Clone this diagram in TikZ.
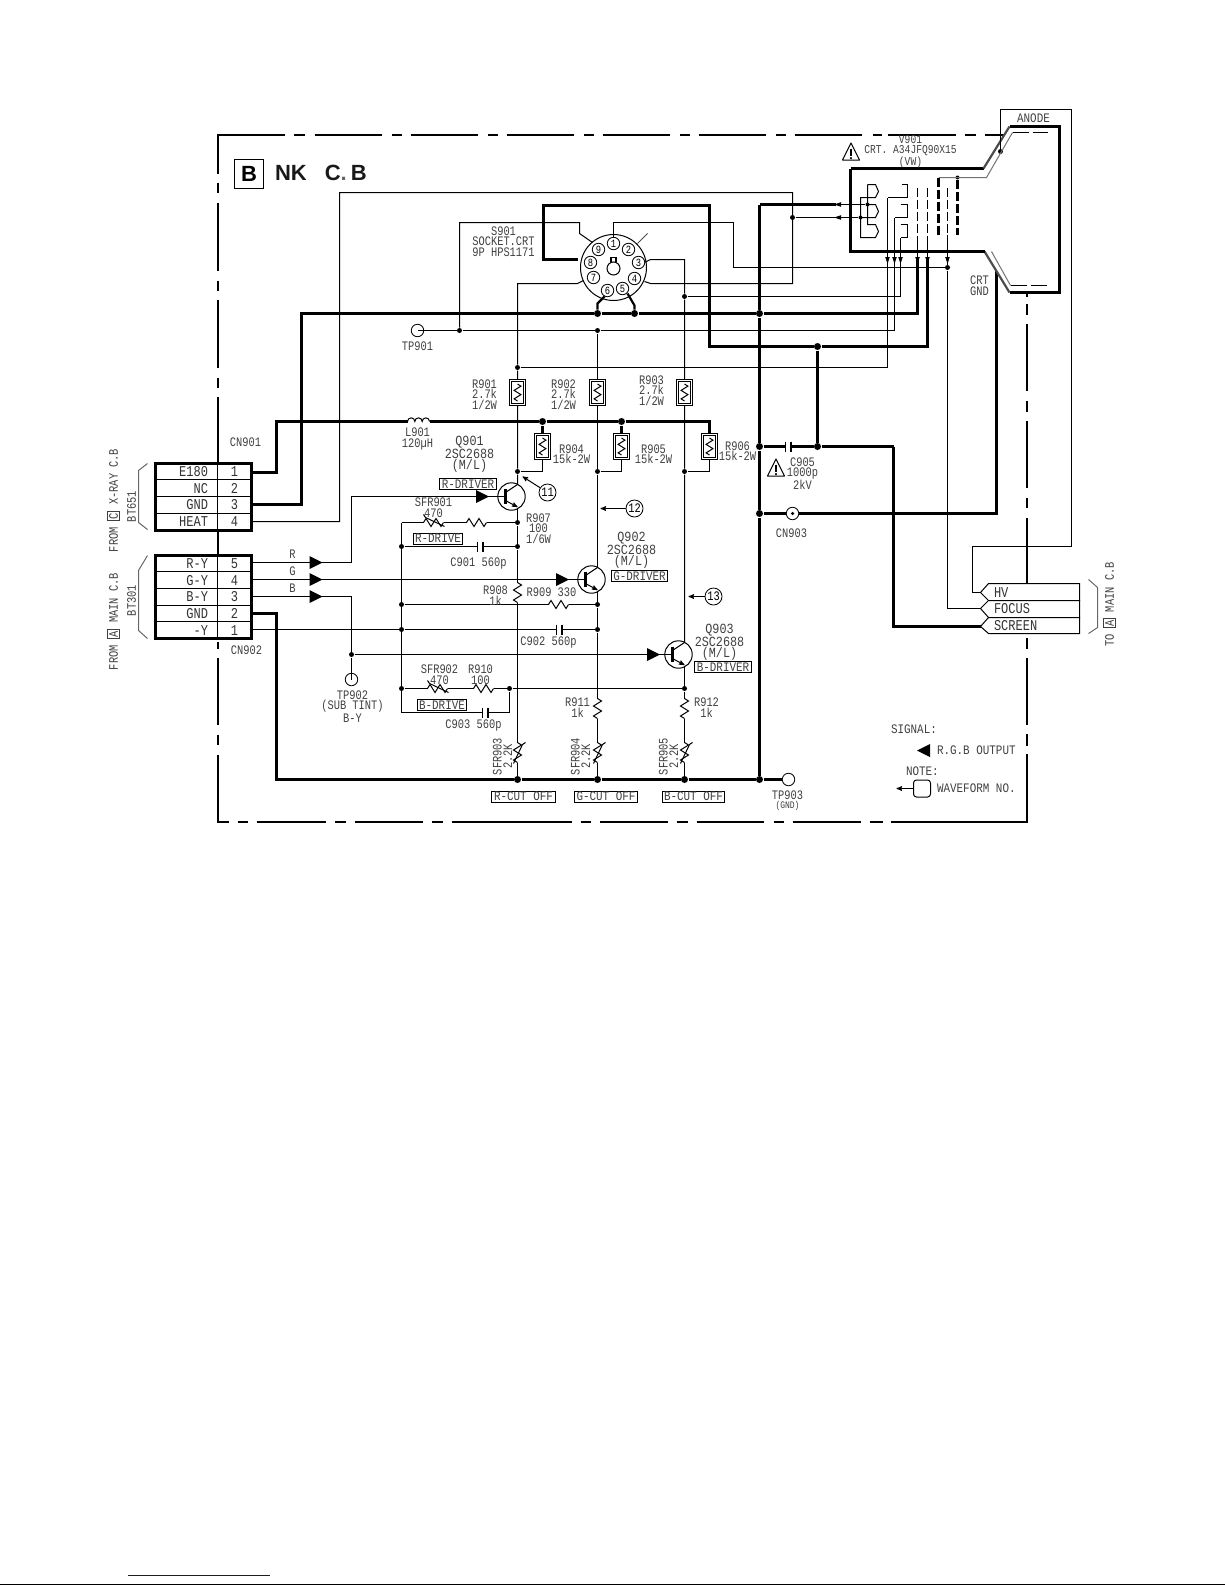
\documentclass[tikz,border=0pt]{standalone}
\usepackage{fontspec}
\usetikzlibrary{arrows,positioning}
\newfontfamily\cadfam[FakeStretch=.8]{Liberation Mono}
\newfontfamily\cadwidefam[FakeStretch=.84]{Liberation Mono}
\newfontfamily\titlefam{Liberation Sans}
\newcommand{\cadtxt}{\cadfam\fontsize{13}{10.5}\selectfont}
\newcommand{\cadsml}{\cadfam\fontsize{12}{10.5}\selectfont}
\newcommand{\cadwide}{\cadwidefam\fontsize{13}{10.5}\selectfont}
\newcommand{\cadbig}{\cadfam\fontsize{15}{11.5}\selectfont}
\newcommand{\cadq}{\cadwidefam\fontsize{14}{11.5}\selectfont}
\newcommand{\cadpin}{\cadfam\fontsize{11}{11}\selectfont}
\setlength{\fboxsep}{1pt}
\setlength{\fboxrule}{.8pt}

\tikzset{
  resz/.pic={\draw[wire] (-10,0) -- (-7.5,-4) -- (-2.5,4) -- (2.5,-4) -- (7.5,4) -- (10,0);
    \coordinate (-a) at (-10,0); \coordinate (-b) at (10,0);},
  sfrz/.pic={\draw[wire] (-10,0) -- (-7.5,-4) -- (-2.5,4) -- (2.5,-4) -- (7.5,4) -- (10,0);
    \draw[wire] (11,4) -- (-8,-5) -- (-10,-8);
    \coordinate (-a) at (-10,0); \coordinate (-b) at (10,0);},
  capc/.pic={\draw[wire] (-3,-5) -- (-3,5); \draw[line width=2.2] (2.5,-5) -- (2.5,5);
    \coordinate (-a) at (-3,0); \coordinate (-b) at (2.5,0);},
  npn/.pic={\node[circle,draw,line width=1,minimum size=27.4,inner sep=0] (-ring) at (0,0) {};
    \draw[line width=2.2] (-6,-8) -- (-6,7);
    \draw[wire] (-6,-4) -- (6,-12);
    \draw[wire,-stealth'] (-6,4) -- (6,10.5);
    \coordinate (-b) at (-6,0); \coordinate (-c) at (6,-12); \coordinate (-e) at (6,11);},
  sigtri/.pic={\fill (-6.5,-6.5) -- (6.5,0) -- (-6.5,6.5) -- cycle;},
  tiptri/.pic={\fill (-2.3,-3.5) -- (2.3,-3.5) -- (0,3.5) -- cycle;},
  coilz/.pic={\draw[wire] (-11,0) arc (180:360:3.67) arc (180:360:3.67) arc (180:360:3.67);
    \coordinate (-a) at (-11,0); \coordinate (-b) at (11,0);},
  warnz/.pic={\draw[wire,line join=round] (-8.5,8.5) -- (8.5,8.5) -- (0,-8.5) -- cycle;
    \draw[line width=1.4] (0,-3) -- (0,4); \fill (0,6.6) circle (1.2);},
}

\begin{document}
\begin{tikzpicture}[x=1pt,y=-1pt,line width=1pt,shift={(.5,.5)}]
  \tikzstyle{wire}=[line width=1pt,black]
  \tikzstyle{hvwire}=[line width=2.6pt,black]
  \tikzstyle{midwire}=[line width=2.2pt,black]
  \tikzstyle{greywire}=[line width=1pt,black!55]
  \tikzstyle{framelin}=[line width=2pt,black]
  \tikzstyle{dot}=[circle,fill=black,inner sep=0,minimum size=5pt]
  \tikzstyle{bigdot}=[circle,fill=black,inner sep=0,minimum size=7pt]
  \tikzstyle{resbox}=[draw,line width=1pt,fill=white,minimum width=16pt,inner sep=0]
  \tikzstyle{resin}=[draw,line width=1pt,minimum width=12pt,inner sep=0]
  \tikzstyle{tpoint}=[circle,draw,line width=.8pt,inner sep=0,minimum size=12.5pt]
  \tikzstyle{pinc}=[circle,draw,line width=.8pt,fill=white,inner sep=0,minimum size=12.5pt,font=\cadpin]
  \tikzstyle{wavec}=[circle,draw,line width=.8pt,fill=white,inner sep=0,minimum size=17pt,font=\cadtxt]
  \tikzstyle{lbl}=[inner sep=0,align=center,font=\cadtxt,text=black!75]
  \tikzstyle{wlbl}=[inner sep=0,align=center,font=\cadwide,text=black!75]
  \tikzstyle{qlbl}=[inner sep=0,align=center,font=\cadq,text=black!75]
  \tikzstyle{cell}=[inner sep=0,font=\cadbig,text=black!80]
  \tikzstyle{tagbox}=[draw,line width=1pt,inner sep=0,font=\cadwide,text=black!75,minimum height=11pt]
  \tikzstyle{cnbox}=[draw,line width=2.2pt,fill=white,inner sep=0]

  \useasboundingbox (-.5,-.5) rectangle (1224.5,1584.5);

  % frame
  \draw[framelin] (284,134) -- (217,134) -- (217,173) (293,134) -- (304,134) (314,134) -- (381,134)
    (391,134) -- (401,134) (410,134) -- (477,134) (487,134) -- (497,134) (506,134) -- (573,134)
    (583,134) -- (593,134) (602,134) -- (669,134) (679,134) -- (689,134) (698,134) -- (765,134)
    (775,134) -- (785,134) (794,134) -- (861,134) (872,134) -- (881,134) (887,134) -- (955,134)
    (964,134) -- (975,134) (984,134) -- (1003,134);
  \draw[framelin] (217,182) -- (217,192) (217,202) -- (217,270) (217,280) -- (217,290) (217,299) -- (217,367)
    (217,377) -- (217,387) (217,396) -- (217,463) (217,530) -- (217,555) (217,641) -- (217,648)
    (217,657) -- (217,724) (217,734) -- (217,744) (217,754) -- (217,821) -- (228,821);
  \draw[framelin] (237,821) -- (247,821) (256,821) -- (325,821) (334,821) -- (345,821) (354,821) -- (422,821)
    (431,821) -- (442,821) (451,821) -- (571,821) (580,821) -- (590,821) (599,821) -- (667,821)
    (676,821) -- (687,821) (696,821) -- (763,821) (773,821) -- (783,821) (792,821) -- (860,821)
    (869,821) -- (882,821) (890,821) -- (1026,821) -- (1026,753);
  \draw[framelin] (1026,745) -- (1026,733) (1026,724) -- (1026,657) (1026,648) -- (1026,637)
    (1026,583) -- (1026,517) (1026,507) -- (1026,497) (1026,487) -- (1026,420) (1026,411) -- (1026,400)
    (1026,390) -- (1026,323) (1026,314) -- (1026,303) (1026,296) -- (1026,292);

  % junctions
  \node[dot] (jTPa) at (459,330) {};
  \node[dot] (jG) at (597,330) {};
  \node[dot] (jR) at (517,367) {};
  \node[dot] (jB) at (684,296) {};
  \node[dot] (jHeat) at (792,217) {};
  \node[bigdot] (jPsix) at (597,313) {};
  \node[bigdot] (jPfive) at (634,313) {};
  \node[bigdot] (jGndtop) at (759,313) {};
  \node[bigdot] (jScr) at (817,346) {};
  \node[bigdot] (jCap) at (817,446) {};
  \node[bigdot] (jCapl) at (759,446) {};
  \node[bigdot] (jCrt) at (759,513) {};
  \node[bigdot] (jLa) at (542,421) {};
  \node[bigdot] (jLb) at (621,421) {};
  \node[dot] (jRa) at (517,471) {};
  \node[dot] (jGa) at (597,471) {};
  \node[dot] (jBa) at (684,471) {};
  \node[dot] (jRb) at (517,522) {};
  \node[dot] (jRc) at (517,546) {};
  \node[dot] (jBusa) at (401,546) {};
  \node[dot] (jBusb) at (401,604) {};
  \node[dot] (jBusc) at (401,629) {};
  \node[dot] (jBusd) at (401,688) {};
  \node[dot] (jGb) at (597,604) {};
  \node[dot] (jGc) at (597,629) {};
  \node[dot] (jBb) at (684,688) {};
  \node[dot] (jBc) at (509,688) {};
  \node[dot] (jBin) at (351,654) {};
  \node[bigdot] (jGndr) at (517,779) {};
  \node[bigdot] (jGndg) at (597,779) {};
  \node[bigdot] (jGndb) at (684,779) {};
  \node[bigdot] (jGndv) at (759,779) {};
  \node[dot] (jFocus) at (947,267) {};
  \node[dot] (jAnode) at (1000,151) {};
  \node[dot,minimum size=4pt] (jGrid) at (957,177) {};
  \node[dot,minimum size=4pt] (jHa) at (867,204) {};
  \node[dot,minimum size=4pt] (jHb) at (860,217) {};

  % parts that sit on the wires
  \node[tpoint] (TP901) at (417,330) {};
  \node[tpoint] (TP902) at (351,679) {};
  \node[tpoint] (TP903) at (788,779) {};
  \pic (Qa) at (511,496) {npn};
  \pic (Qb) at (591,579) {npn};
  \pic (Qc) at (678,654) {npn};
  \pic[rotate=-90] (Reight) at (517,592) {resz};
  \pic[rotate=-90] (Releven) at (597,708) {resz};
  \pic[rotate=-90] (Rtwelve) at (684,708) {resz};
  \pic (Rseven) at (476,522) {resz};
  \pic (Rnine) at (558,604) {resz};
  \pic (Rten) at (483,688) {resz};
  \pic (Sone) at (433,522) {sfrz};
  \pic (Stwo) at (437,688) {sfrz};
  \pic[rotate=-90] (Sthree) at (517,752) {sfrz};
  \pic[rotate=-90] (Sfour) at (597,752) {sfrz};
  \pic[rotate=-90] (Sfive) at (684,752) {sfrz};
  \pic (Ca) at (480,546) {capc};
  \pic (Cb) at (559,629) {capc};
  \pic (Cc) at (485,712) {capc};
  \pic (Ce) at (788,446) {capc};
  \pic (Lone) at (418,421) {coilz};

  % connector blocks
  \coordinate (cnAa) at (251,472);
  \coordinate (cnAc) at (251,504);
  \coordinate (cnAd) at (251,521);
  \coordinate (cnBe) at (251,562);
  \coordinate (cnBd) at (251,579);
  \coordinate (cnBc) at (251,596);
  \coordinate (cnBb) at (251,613);
  \coordinate (cnBa) at (251,629);

  % red, green, blue inputs
  \coordinate (bendR) at (351,562);
  \coordinate (topR) at (351,496);
  \coordinate (bendB) at (351,596);
  \draw[wire] (cnBe) -- (bendR) -- (topR) -- (Qa-b);
  \draw[wire] (cnBd) -- (Qb-b);
  \draw[wire] (cnBc) -- (bendB) -- (jBin) -- (TP902.center);
  \draw[wire] (jBin) -- (Qc-b);
  \draw[wire] (cnBa) -- (jBusc) -- (Cb-a);
  \draw[wire] (Cb-b) -- (jGc);
  \pic (triRa) at (315.5,562) {sigtri};
  \pic (triGa) at (315.5,579) {sigtri};
  \pic (triBa) at (315.5,596) {sigtri};
  \pic (triRb) at (482,496) {sigtri};
  \pic (triGb) at (562,579) {sigtri};
  \pic (triBb) at (653,654) {sigtri};

  % drive bus
  \coordinate (busTop) at (401,522);
  \coordinate (busEnd) at (401,712);
  \coordinate (capEnd) at (509,712);
  \draw[wire] (busTop) -- (busEnd) -- (Cc-a);
  \draw[wire] (Cc-b) -- (capEnd) -- (jBc);
  \draw[wire] (busTop) -- (Sone-a);
  \draw[wire] (Sone-b) -- (Rseven-a);
  \draw[wire] (Rseven-b) -- (jRb);
  \draw[wire] (jBusa) -- (Ca-a);
  \draw[wire] (Ca-b) -- (jRc);
  \draw[wire] (jBusb) -- (Rnine-a);
  \draw[wire] (Rnine-b) -- (jGb);
  \draw[wire] (jBusd) -- (Stwo-a);
  \draw[wire] (Stwo-b) -- (Rten-a);
  \draw[wire] (Rten-b) -- (jBc) -- (jBb);

  % columns
  \coordinate (pinSeven) at (583,280);
  \coordinate (stubSeven) at (577,283);
  \coordinate (topCr) at (517,283);
  \coordinate (pinThree) at (644,262);
  \coordinate (stubThree) at (650,259);
  \coordinate (topCb) at (684,259);
  \draw[wire] (pinSeven) -- (stubSeven) -- (topCr) -- (jR) -- (jRa) -- (Qa-c);
  \draw[wire] (Qa-e) -- (jRb) -- (jRc) -- (Reight-a);
  \draw[wire] (Reight-b) -- (Sthree-a);
  \draw[wire] (Sthree-b) -- (jGndr);
  \draw[wire] (jG) -- (jGa) -- (Qb-c);
  \draw[wire] (Qb-e) -- (jGb) -- (jGc) -- (Releven-a);
  \draw[wire] (Releven-b) -- (Sfour-a);
  \draw[wire] (Sfour-b) -- (jGndg);
  \draw[wire] (pinThree) -- (stubThree) -- (topCb) -- (jB) -- (jBa) -- (Qc-c);
  \draw[wire] (Qc-e) -- (jBb) -- (Rtwelve-a);
  \draw[wire] (Rtwelve-b) -- (Sfive-a);
  \draw[wire] (Sfive-b) -- (jGndb);

  % 180 V rail and its resistors
  \coordinate (railUp) at (276,421);
  \coordinate (railEnd) at (709,421);
  \node[resbox,minimum height=26pt] (Rfour) at (542,446) {};
  \node[resbox,minimum height=26pt] (Rfive) at (621,446) {};
  \node[resbox,minimum height=26pt] (Rsix) at (709,446) {};
  \node[resbox,minimum height=26pt] (Rone) at (517,392) {};
  \node[resbox,minimum height=26pt] (Rtwo) at (597,392) {};
  \node[resbox,minimum height=26pt] (Rthree) at (684,392) {};
  \node[resin,minimum height=22pt] (iRone) at (Rone) {};
  \node[resin,minimum height=22pt] (iRtwo) at (Rtwo) {};
  \node[resin,minimum height=22pt] (iRthree) at (Rthree) {};
  \node[resin,minimum height=22pt] (iRfour) at (Rfour) {};
  \node[resin,minimum height=22pt] (iRfive) at (Rfive) {};
  \node[resin,minimum height=22pt] (iRsix) at (Rsix) {};
  \pic[rotate=-90,scale=.85] (zRone) at (Rone) {resz};
  \pic[rotate=-90,scale=.85] (zRtwo) at (Rtwo) {resz};
  \pic[rotate=-90,scale=.85] (zRthree) at (Rthree) {resz};
  \pic[rotate=-90,scale=.85] (zRfour) at (Rfour) {resz};
  \pic[rotate=-90,scale=.85] (zRfive) at (Rfive) {resz};
  \pic[rotate=-90,scale=.85] (zRsix) at (Rsix) {resz};
  \draw[hvwire] (cnAa) -| (railUp) -- (Lone-a);
  \draw[hvwire] (Lone-b) -- (jLa) -- (jLb) -- (railEnd) -- (Rsix.north);
  \draw[hvwire] (jLa) -- (Rfour.north);
  \draw[hvwire] (jLb) -- (Rfive.north);
  \draw[wire] (Rfour.south) |- (jRa);
  \draw[wire] (Rfive.south) |- (jGa);
  \draw[wire] (Rsix.south) |- (jBa);

  % socket
  \node[circle,draw,line width=1pt,inner sep=0,minimum size=66pt] (sock) at (613,267) {};
  \node[circle,draw,line width=1pt,inner sep=0,minimum size=13pt] (sockKey) at (613,268) {};
  \draw[line width=1.1pt] ([xshift=-2.5pt]sockKey.north) -- ++(0,-4) -- ++(5,0) -- ++(0,4);
  \node[pinc] (pa) at (613,243) {1};
  \node[pinc] (pb) at (628,249) {2};
  \node[pinc] (pc) at (638,262) {3};
  \node[pinc] (pd) at (634,278) {4};
  \node[pinc] (pe) at (622,288) {5};
  \node[pinc] (pf) at (607,290) {6};
  \node[pinc] (pg) at (593,277) {7};
  \node[pinc] (ph) at (590,262) {8};
  \node[pinc] (pi) at (598,249) {9};
  \coordinate (stubTwoa) at (637,243);
  \coordinate (stubTwob) at (647,233);
  \draw[wire,black!70] (stubTwoa) -- (stubTwob);
  \coordinate (bendFivea) at (627,293);
  \coordinate (bendFiveb) at (634,305);
  \coordinate (bendSixa) at (604,296);
  \coordinate (bendSixb) at (597,303);
  \draw[midwire] (bendFivea) -- (bendFiveb) -- (jPfive);
  \draw[midwire] (bendSixa) -- (bendSixb) -- (jPsix);
  \coordinate (nineA) at (592,242);
  \coordinate (nineB) at (579,233);
  \coordinate (nineC) at (579,222);
  \coordinate (nineD) at (459,222);
  \draw[wire] (nineA) -- (nineB) -- (nineC) -- (nineD) -- (jTPa);
  \draw[wire] (TP901.center) -- (jTPa) -- (jG);
  \coordinate (thinEnd) at (894,330);
  \draw[wire] (jG) -- (thinEnd);
  \coordinate (eightA) at (577,259);
  \coordinate (eightB) at (543,259);
  \coordinate (eightC) at (543,205);
  \coordinate (eightD) at (709,205);
  \coordinate (eightE) at (709,346);
  \coordinate (eightF) at (928,346);
  \draw[hvwire] (eightA) -- (eightB) -- (eightC) -- (eightD) -- (eightE) -- (jScr) -- (eightF);

  % ground
  \coordinate (gndCn) at (301,504);
  \coordinate (gndTop) at (301,313);
  \coordinate (gndEnd) at (918,313);
  \draw[hvwire] (cnAc) -- (gndCn) -- (gndTop) -- (jPsix) -- (jPfive) -- (jGndtop) -- (gndEnd);
  \coordinate (gndB) at (276,613);
  \coordinate (gndC) at (276,779);
  \draw[hvwire] (cnBb) -- (gndB) -- (gndC) -- (jGndr) -- (jGndg) -- (jGndb) -- (jGndv) -- (TP903.west);
  \coordinate (vTop) at (759,204);
  \draw[hvwire] (vTop) -- (jGndtop) -- (jCapl) -- (jCrt) -- (jGndv);
  \draw[hvwire] (jScr) -- (jCap);
  \draw[midwire] (jCapl) -- (Ce-a);
  \draw[midwire] (Ce-b) -- (jCap);
  \coordinate (scrA) at (893,446);
  \coordinate (scrB) at (893,626);
  \coordinate (tipSc) at (980,626);
  \draw[midwire] (jCap) -- (scrA);
  \draw[hvwire] (scrA) -- (scrB) -- (tipSc);
  \coordinate (crtGa) at (996,270);
  \coordinate (crtGb) at (996,513);
  \draw[hvwire] (crtGa) -- (crtGb) -- (jCrt);
  \node[tpoint,fill=white,draw=black] (CN903) at (792,513) {};
  \node[dot,minimum size=3.5pt] (CNdot) at (CN903) {};

  % heater wire and pin wires
  \coordinate (heatA) at (339,521);
  \coordinate (heatB) at (339,192);
  \coordinate (heatC) at (792,192);
  \coordinate (heatD) at (792,283);
  \coordinate (fourA) at (650,283);
  \coordinate (fourB) at (644,281);
  \draw[wire] (cnAd) -- (heatA) -- (heatB) -- (heatC) -- (heatD) -- (fourA) -- (fourB);
  \coordinate (oneA) at (613,237);
  \coordinate (oneB) at (613,222);
  \coordinate (oneC) at (733,222);
  \coordinate (oneD) at (733,267);
  \draw[wire] (oneA) -- (oneB) -- (oneC) -- (oneD) -- (jFocus);
  \coordinate (redEnd) at (887,367);
  \coordinate (redTop) at (887,197);
  \draw[wire] (jR) -- (redEnd) -- (redTop);
  \coordinate (grnTop) at (894,217);
  \draw[wire] (thinEnd) -- (grnTop);
  \coordinate (bluEnd) at (900,296);
  \coordinate (bluTop) at (900,237);
  \draw[wire] (jB) -- (bluEnd) -- (bluTop);
  \pic (tipR) at (887,260) {tiptri};
  \pic (tipG) at (894,260) {tiptri};
  \pic (tipB) at (900,260) {tiptri};

  % tube
  \coordinate (tubeA) at (850,168);
  \coordinate (tubeB) at (983,168);
  \coordinate (tubeC) at (1009,126);
  \coordinate (tubeD) at (1059,126);
  \coordinate (tubeE) at (1059,292);
  \coordinate (tubeF) at (1009,292);
  \coordinate (tubeG) at (984,251);
  \coordinate (tubeH) at (850,251);
  \draw[hvwire] (tubeA) -- (tubeB);
  \draw[line width=2.2pt,black!70] (tubeB) -- (tubeC);
  \draw[hvwire] (tubeC) -- (tubeD) -- (tubeE) -- (tubeF);
  \draw[line width=2.2pt,black!70] (tubeF) -- (tubeG);
  \draw[hvwire] (tubeG) -- (tubeH) -- (tubeA);
  % screen coating
  \coordinate (coatA) at (938,177);
  \coordinate (coatB) at (986,177);
  \coordinate (coatC) at (1012,132);
  \coordinate (coatD) at (1047,132);
  \coordinate (coatE) at (991,251);
  \coordinate (coatF) at (1010,285);
  \coordinate (coatG) at (1047,285);
  \draw[greywire] (coatA) -- (coatB) -- (coatC);
  \draw[greywire] (coatE) -- (coatF);
  \draw[wire,dash pattern=on 16pt off 4pt] (coatC) -- (coatD);
  \draw[wire,dash pattern=on 16pt off 4pt] (coatF) -- (coatG);
  % heater and cathodes
  \draw[wire] (867,184) -- (875,184) -- (878,191) -- (875,197) -- (860,197) -- (860,237) -- (875,237) -- (878,231) -- (875,224) -- (867,224) -- (867,184);
  \draw[wire] (867,204) -- (875,204) -- (878,211) -- (875,217) -- (860,217);
  \draw[wire] (901,184) -- (907,184) -- (907,197) -- (887,197);
  \draw[wire] (900,204) -- (907,204) -- (907,217) -- (894,217);
  \draw[wire] (900,224) -- (907,224) -- (907,237) -- (900,237);
  % grids
  \coordinate (gaTop) at (917,187);
  \coordinate (gaLow) at (917,237);
  \coordinate (gaArr) at (917,258);
  \coordinate (gbTop) at (927,187);
  \coordinate (gbLow) at (927,237);
  \coordinate (gbArr) at (927,258);
  \coordinate (gcTop) at (947,187);
  \coordinate (gcLow) at (947,234);
  \coordinate (gcArr) at (947,258);
  \coordinate (focA) at (947,608);
  \coordinate (tipFo) at (980,608);
  \coordinate (gdTop) at (938,177);
  \coordinate (gdLow) at (938,234);
  \coordinate (geLow) at (957,234);
  \draw[wire,dash pattern=on 9pt off 3pt] (gaTop) -- (gaLow);
  \draw[wire,dash pattern=on 9pt off 3pt] (gbTop) -- (gbLow);
  \draw[wire,dash pattern=on 9pt off 3pt] (gcTop) -- (gcLow);
  \draw[midwire,dash pattern=on 9pt off 3pt] (gdTop) -- (gdLow);
  \draw[midwire,dash pattern=on 9pt off 3pt] (jGrid) -- (geLow);
  \draw[wire] (gaLow) -- (gaArr);
  \draw[wire] (gbLow) -- (gbArr);
  \draw[wire] (gcLow) -- (gcArr) -- (jFocus) -- (focA) -- (tipFo);
  \draw[hvwire] (gaArr) |- (gndEnd);
  \draw[hvwire] (gbArr) |- (eightF);
  \pic (tipGa) at (917,260) {tiptri};
  \pic (tipGb) at (927,260) {tiptri};
  \pic (tipGc) at (947,260) {tiptri};
  % heater feed
  \coordinate (feedA) at (835,204);
  \coordinate (feedB) at (835,217);
  \draw[midwire] (vTop) -- (feedA);
  \draw[wire] (feedA) -- (jHa);
  \draw[wire] (jHeat) -- (jHb);
  \pic[rotate=-90] (tipHa) at (837,204) {tiptri};
  \pic[rotate=-90] (tipHb) at (837,217) {tiptri};

  % anode lead
  \coordinate (anA) at (1000,109);
  \coordinate (anB) at (1071,109);
  \coordinate (anC) at (1071,546);
  \coordinate (anD) at (972,546);
  \coordinate (anE) at (972,592);
  \coordinate (tipHV) at (980,592);
  \draw[wire] (jAnode) -- (anA) -- (anB) -- (anC) -- (anD) -- (anE) -- (tipHV);

  % HV tags
  \draw[wire,fill=white] (tipHV) -- (988,583) -- (1079,583) -- (1079,600) -- (988,600) -- cycle;
  \draw[wire,fill=white] (tipFo) -- (988,600) -- (1079,600) -- (1079,617) -- (988,617) -- cycle;
  \draw[wire,fill=white] (tipSc) -- (988,617) -- (1079,617) -- (1079,633) -- (988,633) -- cycle;
  \node[cell,anchor=west] (tagHV) at (993,592) {HV};
  \node[cell,anchor=west] (tagFO) at (993,608.5) {FOCUS};
  \node[cell,anchor=west] (tagSC) at (993,625) {SCREEN};
  \draw[wire,black!60] (1088,579) -- (1097,587) -- (1097,627) -- (1088,633);
  \node[lbl,rotate=90] (toMain) at (1109,604) {TO \fbox{A} MAIN C.B};

  % connector blocks, drawn last so that the frame passes under them
  \node[cnbox,minimum width=96pt,minimum height=67pt] (CNa) at (203,496.5) {};
  \node[cnbox,minimum width=96pt,minimum height=83pt] (CNb) at (203,596.5) {};
  \draw[wire] (217,463) -- (217,530);
  \draw[wire] (217,555) -- (217,638);
  \draw[wire] (155,479) -- (251,479) (155,496) -- (251,496) (155,513) -- (251,513);
  \draw[wire] (155,571) -- (251,571) (155,588) -- (251,588) (155,605) -- (251,605) (155,621) -- (251,621);
  \node[cell,anchor=east] (nEa) at (208,471.5) {E180};
  \node[cell,anchor=east] (nEb) at (208,488) {NC};
  \node[cell,anchor=east] (nEc) at (208,504.5) {GND};
  \node[cell,anchor=east] (nEd) at (208,521) {HEAT};
  \node[cell] (nNa) at (234,471.5) {1};
  \node[cell] (nNb) at (234,488) {2};
  \node[cell] (nNc) at (234,504.5) {3};
  \node[cell] (nNd) at (234,521) {4};
  \node[cell,anchor=east] (nFa) at (208,563) {R-Y};
  \node[cell,anchor=east] (nFb) at (208,580) {G-Y};
  \node[cell,anchor=east] (nFc) at (208,596.5) {B-Y};
  \node[cell,anchor=east] (nFd) at (208,613) {GND};
  \node[cell,anchor=east] (nFe) at (208,630) {-Y};
  \node[cell] (nMa) at (234,563) {5};
  \node[cell] (nMb) at (234,580) {4};
  \node[cell] (nMc) at (234,596.5) {3};
  \node[cell] (nMd) at (234,613) {2};
  \node[cell] (nMe) at (234,630) {1};
  \draw[wire,black!60] (147,463) -- (138,470) -- (138,522) -- (147,529);
  \draw[wire,black!60] (147,555) -- (138,570) -- (138,630) -- (147,638);
  \node[lbl,rotate=90] (fromC) at (113,500) {FROM \fbox{C} X-RAY C.B};
  \node[lbl,rotate=90] (fromA) at (113,621) {FROM \fbox{A} MAIN C.B};
  \node[lbl,rotate=90] (btA) at (131,506) {BT651};
  \node[lbl,rotate=90] (btB) at (131,600) {BT301};

  % title
  \node[draw,line width=1pt,minimum size=29pt,inner sep=0,font=\titlefam\bfseries\fontsize{22}{22}\selectfont] (titleB) at (248.5,173.5) {B};
  \node[inner sep=0,anchor=west,font=\titlefam\bfseries\fontsize{22}{22}\selectfont,text=black!90] (titleNK) at (274,172) {NK\hspace{18pt}C{\color{black!60}.}\hspace{4pt}B};

  % names and values
  \node[lbl] (lCNa) at (245,442) {CN901};
  \node[lbl] (lCNb) at (246,650) {CN902};
  \node[lbl] (lCNc) at (791,533) {CN903};
  \node[lbl] (lTPa) at (417,346) {TP901};
  \node[lbl] (lTPb) at (352,706) {TP902\\(SUB TINT)\\B-Y};
  \node[lbl] (lTPc) at (787,800) {TP903\\[-1pt]{\fontsize{10}{10}\selectfont(GND)}};
  \node[lbl] (lR) at (292,554) {R};
  \node[lbl] (lG) at (292,571) {G};
  \node[lbl] (lB) at (292,588) {B};
  \node[lbl] (lS) at (503,241) {S901\\SOCKET.CRT\\9P HPS1171};
  \node[lbl,font=\cadsml] (lV) at (910,151) {V901\\CRT. A34JFQ90X15\\(VW)};
  \pic (warnA) at (850.5,151) {warnz};
  \pic (warnB) at (775.5,467) {warnz};
  \node[wlbl] (lAn) at (1033,118) {ANODE};
  \node[lbl] (lCRT) at (979,285) {CRT\\GND};
  \node[lbl] (lLone) at (417,438.5) {L901\\120µH};
  \node[lbl] (lRone) at (484,394) {R901\\2.7k\\1/2W};
  \node[lbl] (lRtwo) at (563,394) {R902\\2.7k\\1/2W};
  \node[lbl] (lRthree) at (651,390) {R903\\2.7k\\1/2W};
  \node[lbl] (lRfour) at (571,453.5) {R904\\15k-2W};
  \node[lbl] (lRfive) at (653,453.5) {R905\\15k-2W};
  \node[lbl] (lRsix) at (737,450.5) {R906\\15k-2W};
  \node[qlbl] (lQa) at (469,454) {Q901\\2SC2688\\(M/L)};
  \node[qlbl] (lQb) at (631,550) {Q902\\2SC2688\\(M/L)};
  \node[qlbl] (lQc) at (719,642) {Q903\\2SC2688\\(M/L)};
  \node[tagbox,minimum width=57pt] (tagRd) at (467.5,483.5) {R-DRIVER};
  \node[tagbox,minimum width=56pt] (tagGd) at (639,575.5) {G-DRIVER};
  \node[tagbox,minimum width=57pt] (tagBd) at (722.5,666.5) {B-DRIVER};
  \node[tagbox,minimum width=49pt] (tagRe) at (437.5,538) {R-DRIVE};
  \node[tagbox,minimum width=49pt] (tagBe) at (441.5,704.5) {B-DRIVE};
  \node[lbl] (lSa) at (433,507) {SFR901\\470};
  \node[lbl] (lSb) at (439,674) {SFR902\\470};
  \node[lbl] (lRseven) at (538,528) {R907\\100\\1/6W};
  \node[lbl] (lRten) at (480,674) {R910\\100};
  \node[lbl] (lCa) at (478,563) {C901 560p};
  \node[lbl] (lCb) at (548,642) {C902 560p};
  \node[lbl] (lCc) at (473,725) {C903 560p};
  \node[lbl] (lRe) at (495,595) {R908\\1k};
  \node[lbl] (lRn) at (551,592) {R909 330};
  \node[lbl] (lRel) at (577,707) {R911\\1k};
  \node[lbl] (lRtw) at (706,707) {R912\\1k};
  \node[lbl,rotate=90] (lSc) at (502,756) {SFR903\\2.2K};
  \node[lbl,rotate=90] (lSd) at (580,756) {SFR904\\2.2K};
  \node[lbl,rotate=90] (lSe) at (668,756) {SFR905\\2.2K};
  \node[tagbox,minimum width=64pt] (tagRc) at (523,796) {R-CUT OFF};
  \node[tagbox,minimum width=63pt] (tagGc) at (605.5,796) {G-CUT OFF};
  \node[tagbox,minimum width=62pt] (tagBc) at (693,796) {B-CUT OFF};
  \node[lbl] (lCe) at (802,473) {C905\\1000p\\2kV};

  % waveform marks
  \node[wavec] (wOne) at (547,492) {11};
  \node[wavec] (wTwo) at (634,508) {12};
  \node[wavec] (wThree) at (713,596) {13};
  \coordinate (wOneT) at (522,476);
  \coordinate (wTwoT) at (600,508);
  \coordinate (wThreeT) at (688,596);
  \draw[wire,->,>=stealth'] (wOne) -- (wOneT);
  \draw[wire,->,>=stealth'] (wTwo) -- (wTwoT);
  \draw[wire,->,>=stealth'] (wThree) -- (wThreeT);

  % legend
  \node[wlbl,anchor=west] (lSig) at (890,729) {SIGNAL:};
  \pic[rotate=180] (triLeg) at (923,750) {sigtri};
  \node[wlbl,anchor=west] (lOut) at (936,750) {R.G.B OUTPUT};
  \node[wlbl,anchor=west] (lNote) at (905,771) {NOTE:};
  \node[draw,line width=1pt,rounded corners=3pt,minimum size=17pt,inner sep=0] (waveKey) at (921.5,788) {};
  \coordinate (waveTip) at (896,788);
  \draw[wire,->,>=stealth'] (waveKey) -- (waveTip);
  \node[wlbl,anchor=west] (lWave) at (936,788) {WAVEFORM NO.};

  % page edge
  \draw[blue,line width=1.2pt] (127,1575) -- (269,1575);
  \draw[line width=1.2pt] (-.5,1584) -- (1224.5,1584);
\end{tikzpicture}
\end{document}
